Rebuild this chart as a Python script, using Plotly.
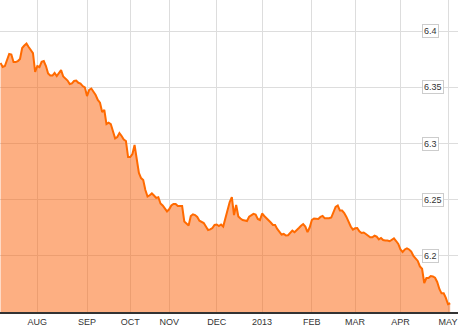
import pandas as pd
import plotly.graph_objects as go

# ---- data -------------------------------------------------------------
start_date = "2012-07-09"
end_date = "2013-05-02"
holidays = ["2012-10-01", "2012-10-02", "2012-10-03", "2012-10-04", "2012-10-05"]

rates = [
    6.3716, 6.3680, 6.3689, 6.3751, 6.3796, 6.3791, 6.3724, 6.3724, 6.3733, 6.3751,
    6.3849, 6.3871, 6.3889, 6.3858, 6.3825, 6.3804, 6.3636, 6.3689, 6.3680, 6.3727,
    6.3733, 6.3689, 6.3622, 6.3604, 6.3604, 6.3627, 6.3600, 6.3627, 6.3653, 6.3596,
    6.3582, 6.3560, 6.3529, 6.3535, 6.3556, 6.3560, 6.3540, 6.3533, 6.3511, 6.3500,
    6.3422, 6.3476, 6.3489, 6.3458, 6.3431, 6.3387, 6.3363, 6.3280, 6.3298, 6.3173,
    6.3185, 6.3173, 6.3102, 6.3046, 6.3058, 6.3093, 6.3067, 6.3036, 6.3022, 6.2880,
    6.2880, 6.2907, 6.2987, 6.2862, 6.2738, 6.2693, 6.2676, 6.2587, 6.2529, 6.2540,
    6.2556, 6.2538, 6.2516, 6.2522, 6.2467, 6.2449, 6.2418, 6.2396, 6.2415, 6.2449,
    6.2462, 6.2462, 6.2444, 6.2444, 6.2444, 6.2307, 6.2293, 6.2271, 6.2356, 6.2371,
    6.2364, 6.2347, 6.2314, 6.2302, 6.2293, 6.2262, 6.2231, 6.2237, 6.2249, 6.2276,
    6.2280, 6.2267, 6.2280, 6.2262, 6.2333, 6.2427, 6.2480, 6.2524, 6.2364, 6.2453,
    6.2351, 6.2333, 6.2320, 6.2316, 6.2311, 6.2349, 6.2362, 6.2375, 6.2369, 6.2329,
    6.2320, 6.2378, 6.2356, 6.2338, 6.2324, 6.2298, 6.2276, 6.2276, 6.2240, 6.2213,
    6.2191, 6.2196, 6.2182, 6.2184, 6.2205, 6.2225, 6.2211, 6.2227, 6.2249, 6.2269,
    6.2284, 6.2262, 6.2213, 6.2253, 6.2320, 6.2333, 6.2329, 6.2329, 6.2347, 6.2356,
    6.2335, 6.2335, 6.2335, 6.2342, 6.2396, 6.2436, 6.2449, 6.2404, 6.2404, 6.2382,
    6.2347, 6.2302, 6.2262, 6.2234, 6.2246, 6.2249, 6.2220, 6.2205, 6.2209, 6.2196,
    6.2184, 6.2167, 6.2167, 6.2180, 6.2172, 6.2147, 6.2160, 6.2142, 6.2137, 6.2138,
    6.2131, 6.2142, 6.2156, 6.2133, 6.2107, 6.2058, 6.2036, 6.2058, 6.2067, 6.2058,
    6.2040, 6.2000, 6.1982, 6.1956, 6.1907, 6.1886, 6.1760, 6.1804, 6.1804, 6.1822,
    6.1818, 6.1807, 6.1769, 6.1707, 6.1668, 6.1668, 6.1627, 6.1571, 6.1580,
]

y_ticks = [6.2, 6.25, 6.3, 6.35, 6.4]
y_tick_labels = ["6.2", "6.25", "6.3", "6.35", "6.4"]
month_labels = ["AUG", "SEP", "OCT", "NOV", "DEC", "2013", "FEB", "MAR", "APR", "MAY"]

# ---- trading-day axis --------------------------------------------------
dates = pd.bdate_range(start_date, end_date)
dates = dates[~dates.isin(pd.to_datetime(holidays))]
n = min(len(dates), len(rates))
dates = dates[:n]
rates = rates[:n]
x_idx = list(range(n))

months = dates.to_period("M")
month_starts = [i for i in range(1, n) if months[i] != months[i - 1]]

fig = go.Figure()
fig.add_trace(go.Scatter(
    x=x_idx, y=rates, mode="lines",
    line=dict(color="#ff6a00", width=2),
    fill="tozeroy", fillcolor="rgba(251,95,5,0.5)",
    hoverinfo="skip", showlegend=False,
))

grid = "#dddddd"
fig.update_layout(
    width=458, height=327,
    margin=dict(l=0, r=0, t=0, b=15),
    paper_bgcolor="white", plot_bgcolor="white",
    font=dict(family="Liberation Sans, Arial, sans-serif", size=9, color="#333"),
    xaxis=dict(
        range=[-0.254, 211.62],
        tickmode="array", tickvals=month_starts, ticktext=month_labels[:len(month_starts)],
        showgrid=True, gridcolor=grid, gridwidth=1,
        showline=True, linecolor="#333", linewidth=1.5,
        ticks="", zeroline=False, automargin=False,
        tickfont=dict(size=9, color="#333"),
    ),
    yaxis=dict(
        range=[6.1502, 6.4276],
        tickmode="array", tickvals=y_ticks,
        showticklabels=False, showgrid=True, gridcolor=grid, gridwidth=1,
        zeroline=False, showline=False, automargin=False,
    ),
)

for v, lab in zip(y_ticks, y_tick_labels):
    fig.add_annotation(
        x=422 / 458, xref="paper", xanchor="left",
        y=v, yref="y", yanchor="middle",
        text=lab, showarrow=False,
        bgcolor="white", bordercolor="#cccccc", borderwidth=1, borderpad=1,
        font=dict(size=9, color="#333"),
    )

fig.write_html("out.html")
